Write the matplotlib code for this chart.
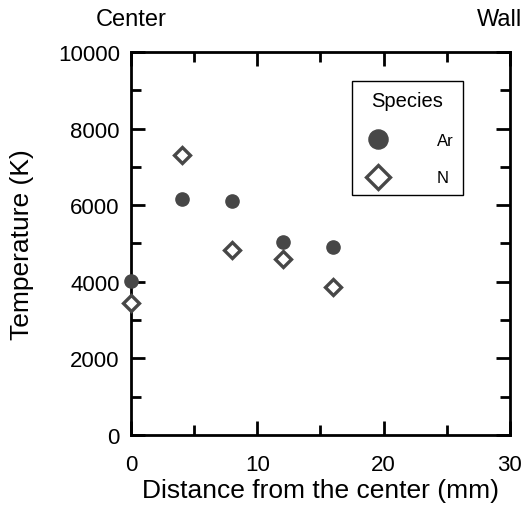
import matplotlib.pyplot as plt
from matplotlib.ticker import MultipleLocator

plt.rcParams['font.family'] = ['Liberation Sans', 'DejaVu Sans']

# radial temperature profiles (K) vs distance from the center (mm)
distance = [0, 4, 8, 12, 16]
temp_ar = [4010, 6150, 6120, 5040, 4920]
temp_n = [3450, 7310, 4820, 4600, 3860]

x_ticks = [0, 10, 20, 30]
y_ticks = [0, 2000, 4000, 6000, 8000, 10000]

DARK = "#474747"

fig = plt.figure(figsize=(5.29, 5.06), dpi=100)
ax = fig.add_axes([0.2476, 0.1383, 0.964 - 0.2476, 0.8953 - 0.1383])

ax.plot(distance, temp_ar, linestyle="none", marker="o", ms=9.5,
        mfc=DARK, mec=DARK, label="Ar", clip_on=False, zorder=5)
ax.plot(distance, temp_n, linestyle="none", marker="D", ms=8.5,
        mfc="white", mec=DARK, mew=2.4, label="N", clip_on=False, zorder=5)

ax.set_xlim(0, 30)
ax.set_ylim(0, 10000)
ax.set_xticks(x_ticks)
ax.set_yticks(y_ticks)
ax.xaxis.set_minor_locator(MultipleLocator(5))
ax.yaxis.set_minor_locator(MultipleLocator(1000))
ax.tick_params(which="both", direction="in", top=True, right=True,
               width=2, color="black")
ax.tick_params(which="major", length=10, labelsize=16)
ax.tick_params(which="minor", length=7)
ax.tick_params(axis="x", which="major", pad=14)
ax.tick_params(axis="y", which="major", pad=8)
for s in ax.spines.values():
    s.set_linewidth(2)

ax.set_xlabel("Distance from the center (mm)", fontsize=19, labelpad=2)
ax.set_ylabel("Temperature (K)", fontsize=19, labelpad=17)

ax.text(0, 1.085, "Center", transform=ax.get_xaxis_transform(),
        ha="center", va="center", fontsize=17)
ax.text(29.2, 1.085, "Wall", transform=ax.get_xaxis_transform(),
        ha="center", va="center", fontsize=17)

leg = ax.legend(title="Species", loc="upper left",
                bbox_to_anchor=(0.56, 0.945), markerscale=1.45,
                fontsize=12, title_fontsize=14.5, handletextpad=2.5,
                labelspacing=1.35, borderpad=0.6, fancybox=False,
                edgecolor="black", framealpha=1, alignment="center")
leg.get_frame().set_linewidth(1)

fig.savefig("out.png", dpi=100)
